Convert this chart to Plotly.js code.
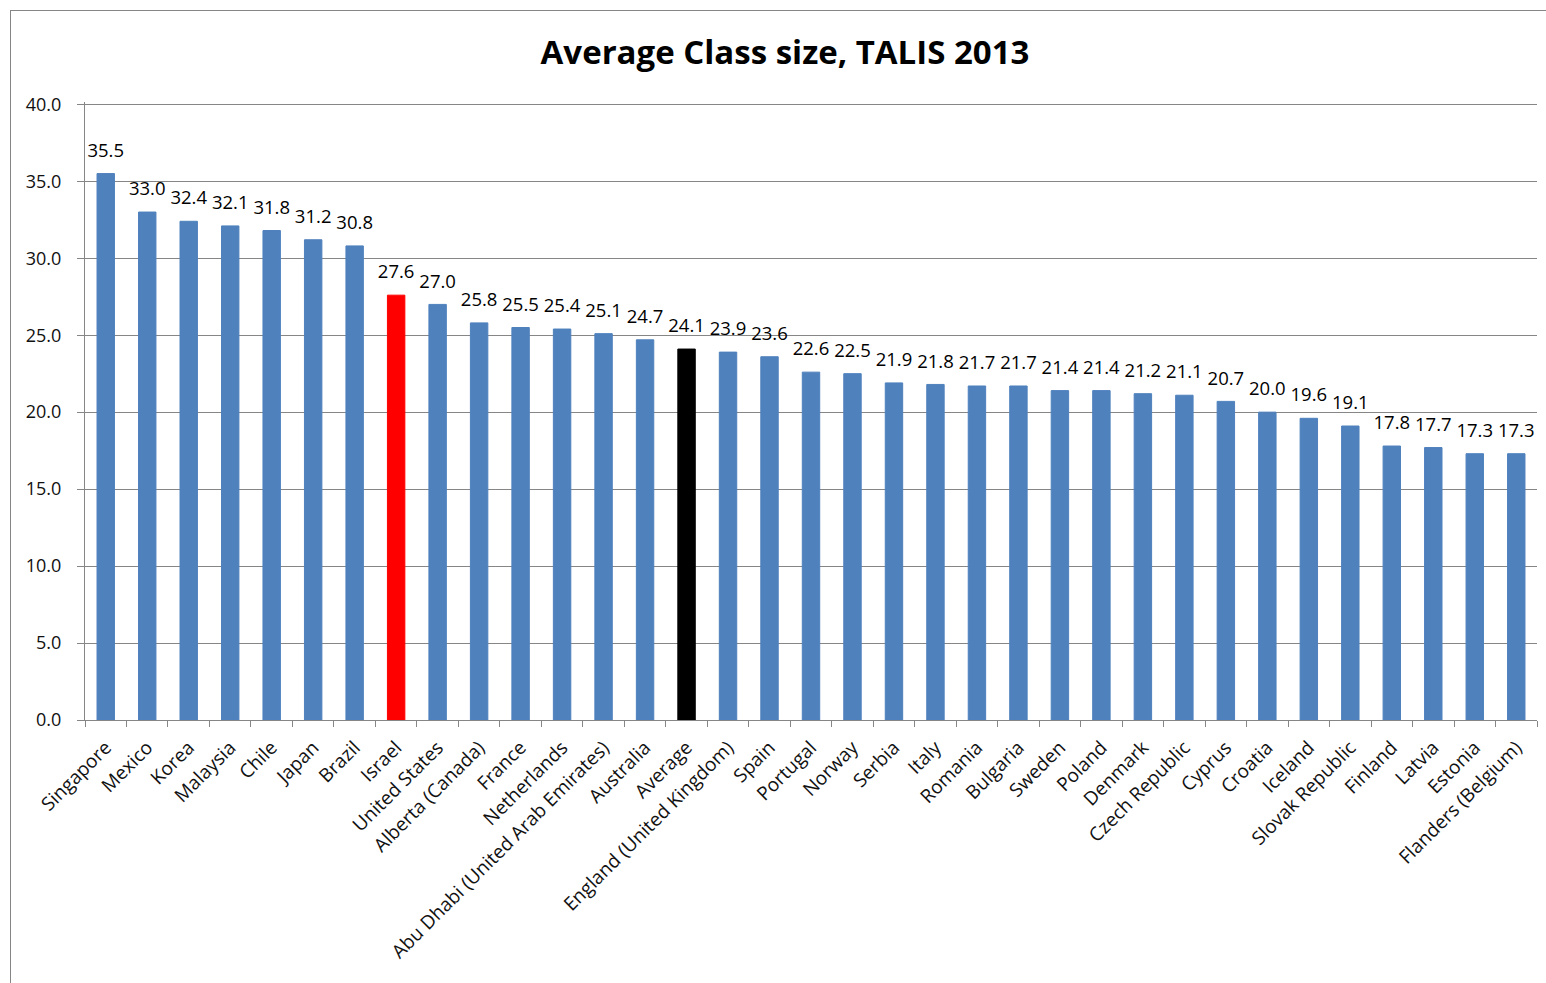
<!DOCTYPE html>
<html>
<head>
<meta charset="utf-8">
<script src="https://cdn.plot.ly/plotly-3.0.1.min.js"></script>
<style>
  html, body { margin: 0; padding: 0; background: #fff; }
  #wrap { position: relative; width: 1546px; height: 983px; }
  #chart { width: 1546px; height: 983px; }
  #frame { position: absolute; left: 10px; top: 10px; width: 1545px; height: 980px;
           border-left: 1px solid #868686; border-top: 1px solid #868686; box-sizing: border-box; pointer-events: none; }
</style>
</head>
<body>
<div id="wrap">
  <div id="chart"></div>
  <div id="frame"></div>
</div>
<script>
const countries = ["Singapore","Mexico","Korea","Malaysia","Chile","Japan","Brazil","Israel","United States","Alberta (Canada)","France","Netherlands","Abu Dhabi (United Arab Emirates)","Australia","Average","England (United Kingdom)","Spain","Portugal","Norway","Serbia","Italy","Romania","Bulgaria","Sweden","Poland","Denmark","Czech Republic","Cyprus","Croatia","Iceland","Slovak Republic","Finland","Latvia","Estonia","Flanders (Belgium)"];
const classSize = [35.5,33.0,32.4,32.1,31.8,31.2,30.8,27.6,27.0,25.8,25.5,25.4,25.1,24.7,24.1,23.9,23.6,22.6,22.5,21.9,21.8,21.7,21.7,21.4,21.4,21.2,21.1,20.7,20.0,19.6,19.1,17.8,17.7,17.3,17.3];
const highlight = {"Israel": "#FF0000", "Average": "#000000"};
const baseColor = "#4F81BD";

const colors = countries.map(c => highlight[c] || baseColor);
const font = "'Open Sans', 'Noto Sans', sans-serif";

const bars = {
  type: "bar",
  x: countries,
  y: classSize,
  marker: { color: colors, line: { color: colors, width: 1 } },
  hoverinfo: "x+y"
};

const labels = {
  type: "scatter",
  mode: "text+markers",
  x: countries,
  y: classSize,
  marker: { size: 18, color: "rgba(0,0,0,0)" },
  text: classSize.map(v => v.toFixed(1)),
  textposition: "top center",
  textfont: { family: font, size: 18.5, color: "#000" },
  cliponaxis: false,
  hoverinfo: "skip"
};

const layout = {
  width: 1546, height: 983,
  margin: { l: 85, r: 9, t: 102, b: 263 },
  paper_bgcolor: "#fff", plot_bgcolor: "#fff",
  bargap: 0.58,
  showlegend: false,
  title: {
    text: "Average Class size, TALIS 2013",
    font: { family: font, size: 33, color: "#000", weight: "bold" },
    x: 785 / 1546, xanchor: "center", xref: "container",
    y: 0.947, yanchor: "middle", yref: "container"
  },
  xaxis: {
    type: "category",
    range: [-0.5, countries.length - 0.5],
    autorange: false,
    tickangle: -45,
    tickfont: { family: font, size: 19, color: "#111" },
    ticks: "outside", ticklen: 6, tickcolor: "#868686",
    tickson: "boundaries",
    ticklabelstandoff: 8,
    showline: true, linecolor: "#868686", linewidth: 1,
    showgrid: false,
    automargin: false
  },
  yaxis: {
    range: [0, 40.15], autorange: false, tickvals: [0, 5, 10, 15, 20, 25, 30, 35, 40], tickformat: ".1f",
    tickfont: { family: font, size: 18, color: "#111" },
    ticks: "outside", ticklen: 7, tickcolor: "#868686",
    ticklabelstandoff: 12,
    showline: true, linecolor: "#868686", linewidth: 1,
    showgrid: true, gridcolor: "#868686", gridwidth: 1,
    zeroline: false,
    automargin: false
  }
};

Plotly.newPlot("chart", [bars, labels], layout, { displayModeBar: false, staticPlot: true });
</script>
</body>
</html>
